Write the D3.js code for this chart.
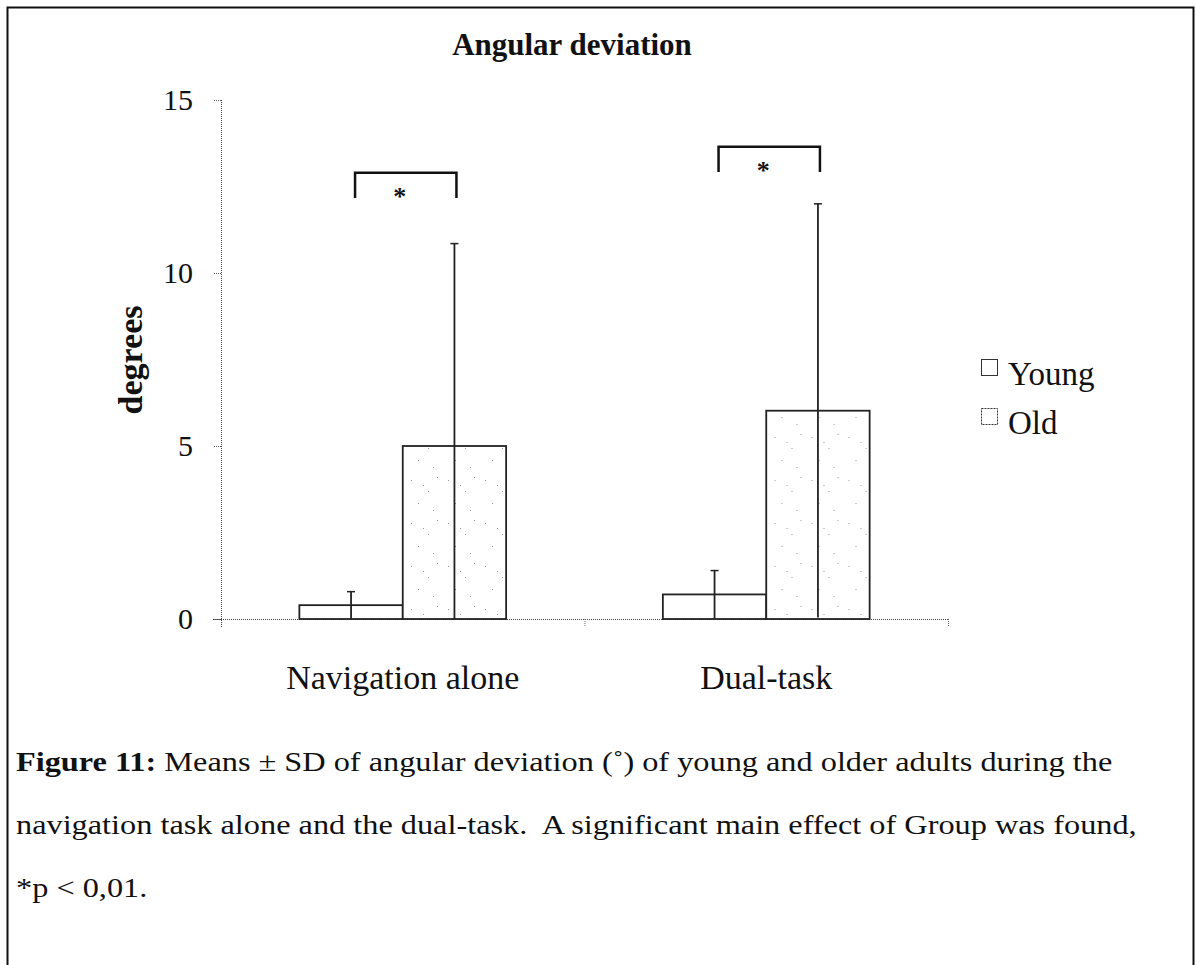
<!DOCTYPE html>
<html>
<head>
<meta charset="utf-8">
<script src="https://cdnjs.cloudflare.com/ajax/libs/d3/7.8.5/d3.min.js"></script>
<style>
  body { margin: 0; background: #fff; }
  svg text { font-family: "Liberation Serif", "Times New Roman", serif; fill: #111; }
</style>
</head>
<body>
<script>
var categories = ["Navigation alone", "Dual-task"];
var groups = ["Young", "Old"];
var means = { "Young": [0.4, 0.71], "Old": [5.0, 6.02] };
var sds = { "Young": [0.39, 0.69], "Old": [5.85, 5.98] };
var yTicks = [0, 5, 10, 15];
// significance brackets: [category index, top value, leg bottom value]
var brackets = [[0, 12.9, 12.17], [1, 13.65, 12.92]];
var captionLines = [
  [["Figure 11:", true], [" Means \u00b1 SD of angular deviation (\u02da) of young and older adults during the", false]],
  [["navigation task alone and the dual-task.  A significant main effect of Group was found,", false]],
  [["*p < 0,01.", false]]
];

var W = 1196, H = 965;
var svg = d3.select("body").append("svg")
      .attr("width", W).attr("height", H);

var defs = svg.append("defs");
var pat = defs.append("pattern")
      .attr("id", "speck")
      .attr("patternUnits", "userSpaceOnUse")
      .attr("width", 37).attr("height", 43);
pat.append("rect").attr("width", 37).attr("height", 43).attr("fill", "#fff");
[[5, 7], [22, 18], [31, 4], [12, 30], [27, 37], [17, 12]].forEach(function(p) {
  pat.append("rect").attr("x", p[0]).attr("y", p[1])
    .attr("width", 1).attr("height", 1).attr("fill", "#999");
});

// page frame
svg.append("path")
  .attr("d", "M7.5," + H + "V7.5H1193.5V" + H)
  .attr("fill", "none").attr("stroke", "#111").attr("stroke-width", 2);

var x0 = d3.scaleBand().domain(categories).range([221, 948]).padding(0);
var x1 = d3.scaleBand().domain(groups).range([0, x0.bandwidth()])
      .paddingInner(0).paddingOuter(0.758);
var y = d3.scaleLinear().domain([0, 15]).range([619, 100]);

// axes
var yAxis = svg.append("g")
      .attr("transform", "translate(221,0)")
      .call(d3.axisLeft(y).tickValues(yTicks).tickSize(8).tickPadding(20).tickFormat(d3.format("d")));
yAxis.select(".domain").attr("stroke", "#444").attr("stroke-dasharray", "1,1").attr("d", "M0.5,100V627");
yAxis.selectAll(".tick line").attr("stroke", "#666").attr("stroke-dasharray", "1,1");
yAxis.selectAll(".tick text").attr("font-size", 30).attr("fill", "#111")
  .attr("font-family", "Liberation Serif");

var xAxis = svg.append("g").attr("transform", "translate(0,619)");
xAxis.append("line")
  .attr("x1", 213).attr("x2", 948).attr("y1", 0.5).attr("y2", 0.5)
  .attr("stroke", "#444").attr("stroke-dasharray", "1,1");
xAxis.selectAll(".xtick")
  .data(categories)
  .enter().append("line")
  .attr("class", "xtick")
  .attr("x1", function(d) { return x0(d) + x0.bandwidth() + 0.5; })
  .attr("x2", function(d) { return x0(d) + x0.bandwidth() + 0.5; })
  .attr("y1", 0).attr("y2", 8)
  .attr("stroke", "#666").attr("stroke-dasharray", "1,1");
xAxis.selectAll(".xlabel")
  .data(categories)
  .enter().append("text")
  .attr("class", "xlabel")
  .attr("x", function(d) { return x0(d) + x0.bandwidth() / 2; })
  .attr("y", 70)
  .attr("text-anchor", "middle")
  .attr("font-size", 34)
  .text(function(d) { return d; });

// bars
var cat = svg.selectAll(".cat")
      .data(categories)
      .enter().append("g")
      .attr("class", "cat")
      .attr("transform", function(d) { return "translate(" + x0(d) + ",0)"; });

var bar = cat.selectAll(".bar")
      .data(function(d, i) {
        return groups.map(function(g) { return {g: g, m: means[g][i], sd: sds[g][i]}; });
      })
      .enter().append("g")
      .attr("class", "bar");

bar.append("rect")
  .attr("x", function(d) { return x1(d.g); })
  .attr("y", function(d) { return y(d.m); })
  .attr("width", x1.bandwidth())
  .attr("height", function(d) { return y(0) - y(d.m); })
  .attr("fill", function(d) { return d.g == "Old" ? "url(#speck)" : "#fff"; })
  .attr("stroke", "#222")
  .attr("stroke-width", 1.8);

bar.append("line")
  .attr("x1", function(d) { return x1(d.g) + x1.bandwidth() / 2; })
  .attr("x2", function(d) { return x1(d.g) + x1.bandwidth() / 2; })
  .attr("y1", function(d) { return y(Math.max(0, d.m - d.sd)); })
  .attr("y2", function(d) { return y(d.m + d.sd); })
  .attr("stroke", "#222").attr("stroke-width", 1.8);

bar.append("line")
  .attr("x1", function(d) { return x1(d.g) + x1.bandwidth() / 2 - 4; })
  .attr("x2", function(d) { return x1(d.g) + x1.bandwidth() / 2 + 4; })
  .attr("y1", function(d) { return y(d.m + d.sd); })
  .attr("y2", function(d) { return y(d.m + d.sd); })
  .attr("stroke", "#222").attr("stroke-width", 1.5);

// significance brackets
var br = svg.selectAll(".bracket")
      .data(brackets)
      .enter().append("g")
      .attr("class", "bracket");
br.append("path")
  .attr("d", function(d) {
    var c = categories[d[0]];
    var xa = x0(c) + x1("Young") + x1.bandwidth() / 2 + 4,
        xb = x0(c) + x1("Old") + x1.bandwidth() / 2 + 2;
    return "M" + xa + "," + y(d[2]) + "V" + y(d[1]) + "H" + xb + "V" + y(d[2]);
  })
  .attr("fill", "none").attr("stroke", "#111").attr("stroke-width", 2.5);
br.append("text")
  .attr("x", function(d) { return x0(categories[d[0]]) + x0.bandwidth() / 2 - 3; })
  .attr("y", function(d) { return y(d[2]) + 7; })
  .attr("text-anchor", "middle")
  .attr("font-size", 26)
  .attr("font-weight", "bold")
  .text("*");

// title and y label
svg.append("text")
  .attr("x", 572).attr("y", 55)
  .attr("text-anchor", "middle")
  .attr("font-size", 31).attr("font-weight", "bold")
  .text("Angular deviation");

svg.append("text")
  .attr("transform", "translate(142,360) rotate(-90)")
  .attr("text-anchor", "middle")
  .attr("font-size", 34).attr("font-weight", "bold")
  .text("degrees");

// legend
var leg = svg.selectAll(".leg")
      .data(groups)
      .enter().append("g")
      .attr("class", "leg")
      .attr("transform", function(d, i) { return "translate(981," + (359 + i * 49) + ")"; });
leg.append("rect")
  .attr("x", 0.5).attr("y", 0.5).attr("width", 16).attr("height", 16)
  .attr("fill", "#fff").attr("stroke", "#333")
  .attr("stroke-dasharray", function(d) { return d == "Old" ? "2,1" : null; });
leg.append("text")
  .attr("x", 27).attr("y", 26)
  .attr("font-size", 33)
  .text(function(d) { return d; });

// caption, stretched sideways like the scanned page
var capG = svg.append("g");
var cap = capG.selectAll(".cap")
      .data(captionLines)
      .enter().append("text")
      .attr("class", "cap")
      .attr("x", 0)
      .attr("y", function(d, i) { return 771 + i * 63; })
      .attr("font-size", 28);
cap.selectAll("tspan")
  .data(function(d) { return d; })
  .enter().append("tspan")
  .attr("font-weight", function(d) { return d[1] ? "bold" : null; })
  .style("white-space", "pre")
  .text(function(d) { return d[0]; });
var firstLen = cap.node().getComputedTextLength();
capG.attr("transform", "translate(16,0) scale(" + (1097 / firstLen) + ",1)");
</script>
</body>
</html>
